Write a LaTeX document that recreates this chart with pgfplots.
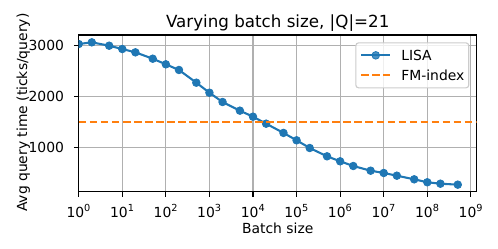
\documentclass[border=0pt]{standalone}
\usepackage{pgfplots}
\pgfplotsset{compat=1.18}
\usepackage{fontspec}
\setmainfont{DejaVu Sans}
\definecolor{tabblue}{HTML}{1F77B4}
\definecolor{taborange}{HTML}{FF7F0E}
\definecolor{gridgray}{HTML}{B0B0B0}
\definecolor{leggray}{HTML}{CCCCCC}
\newcommand{\tickfont}{\fontsize{13.9bp}{16bp}\selectfont}
\newcommand{\titlefont}{\fontsize{16.7bp}{19bp}\selectfont}
\pgfplotstableread{
x y
1 3033
2 3066
5 3000
10 2935
20 2870
50 2745
100 2635
200 2524
500 2275
1000 2078
2000 1896
5000 1726
10000 1608
20000 1471
50000 1290
100000 1145
200000 994
500000 831
1000000 733
2000000 641
5000000 549
10000000 504
20000000 451
50000000 380
100000000 322
200000000 294
500000000 275
}\lisa
\begin{document}
\begin{tikzpicture}
\useasboundingbox (0,0) rectangle (498bp,249bp);
\begin{axis}[
  at={(78.7bp,57.3bp)}, anchor=south west,
  scale only axis, width=398bp, height=156.7bp,
  xmode=log, xmin=1, xmax=1.36e9, ymin=137, ymax=3210,
  xtick={1,10,100,1000,10000,100000,1000000,10000000,100000000,1000000000},
  xticklabels={10\textsuperscript{0},10\textsuperscript{1},10\textsuperscript{2},10\textsuperscript{3},10\textsuperscript{4},10\textsuperscript{5},10\textsuperscript{6},10\textsuperscript{7},10\textsuperscript{8},10\textsuperscript{9}},
  ytick={1000,2000,3000}, yticklabels={1000,2000,3000},
  xminorticks=false, yminorticks=false,
  tick pos=left, tick align=outside,
  major tick length=4.86bp,
  tick style={black, line width=1.11bp},
  axis line style={line width=1.11bp},
  grid=major, major grid style={gridgray, line width=1.11bp},
  clip marker paths=true,
  xticklabel style={font=\tickfont, inner sep=0pt, anchor=base, yshift=-20.6bp},
  yticklabel style={font=\tickfont, inner sep=0pt, anchor=east, xshift=-9.7bp},
  legend cell align=left,
  legend image code/.code={\draw[mark repeat=2,mark phase=2,#1] plot coordinates {(0bp,0bp) (14.5bp,0bp) (29bp,0bp)};},
  legend style={at={(1,1)}, anchor=north east, xshift=-7.4bp, yshift=-7.3bp,
    draw=leggray, line width=1.11bp, rounded corners=2.8bp, fill=white, fill opacity=0.8, text opacity=1,
    font=\tickfont, inner xsep=4.4bp, inner ysep=7.5bp, row sep=10bp, column sep=10bp,
    nodes={inner sep=0pt, text height=10bp, text depth=0pt}},
]
\addplot[tabblue, line width=2.08bp, mark=*, mark size=3.8bp, mark options={line width=0.8bp, fill=tabblue, draw=tabblue, solid}] table[x=x,y=y] {\lisa};
\addlegendentry{LISA}
\addplot[taborange, line width=2.08bp, dash pattern=on 7.7bp off 3.33bp] coordinates {(1,1510) (1.36e9,1510)};
\addlegendentry{FM-index}
\end{axis}
\node[font=\titlefont, anchor=base, inner sep=0pt] at (277.7bp,221.7bp) {Varying batch size, |Q|=21};
\node[font=\tickfont, anchor=base, inner sep=0pt] at (277.7bp,16bp) {Batch size};
\node[font=\tickfont, anchor=base, inner sep=0pt, rotate=90] at (27bp,136.3bp) {Avg query time (ticks/query)};
\end{tikzpicture}
\end{document}
